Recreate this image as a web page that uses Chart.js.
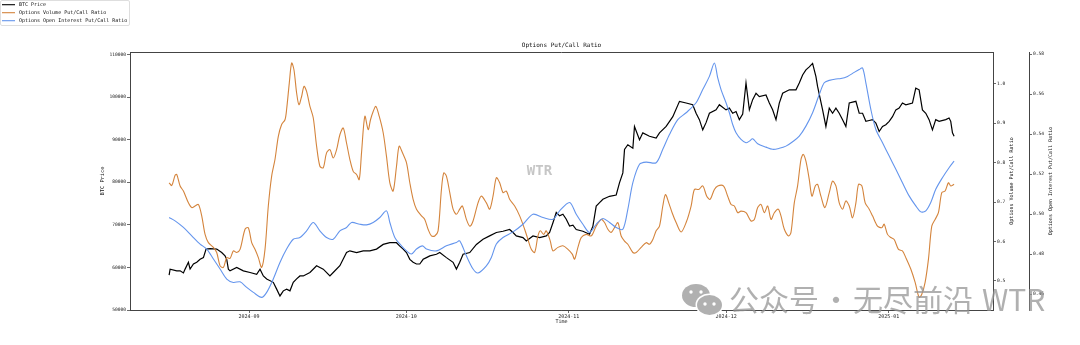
<!DOCTYPE html>
<html>
<head>
<meta charset="utf-8">
<script src="https://cdn.jsdelivr.net/npm/chart.js@4.4.0/dist/chart.umd.min.js"></script>
<style>
html,body{margin:0;padding:0;background:#fff;}
#wrap{width:1080px;height:345px;position:relative;}
</style>
</head>
<body>
<div id="wrap"><canvas id="c" width="1080" height="345"></canvas></div>
<script>
// ---- data (x = days since 2024-08-01) ----
const btcDay = [15.76,15.95,17.22,17.86,18.49,18.81,19.44,19.76,20.40,21.03,21.67,22.30,22.81,23.57,24.84,25.79,26.43,26.75,27.06,27.38,28.65,29.92,31.19,32.46,33.10,33.73,34.37,35.63,36.27,36.90,37.54,38.17,38.81,39.44,40.08,40.71,41.35,42.62,43.89,44.52,45.16,46.43,47.06,48.33,49.60,50.24,51.51,52.78,54.05,55.32,56.59,57.86,59.13,59.76,60.40,61.03,61.67,62.30,62.94,63.57,64.21,64.84,65.48,66.75,67.38,68.65,69.92,70.56,71.19,71.83,73.10,74.37,75.63,76.90,78.17,79.44,80.71,81.35,81.98,83.25,83.89,85.16,86.43,87.70,88.33,88.97,89.60,90.24,90.87,91.51,92.14,92.78,93.41,94.68,95.95,96.59,97.22,97.86,98.49,99.76,101.03,101.67,102.30,102.62,103.25,104.21,104.52,105.48,106.11,107.38,108.65,109.29,110.56,111.83,113.10,114.37,115.63,116.27,116.90,117.54,118.17,118.81,120.08,120.71,121.98,122.62,123.25,123.89,124.52,125.16,125.79,126.43,127.06,127.70,128.33,129.60,130.24,130.87,131.51,132.14,132.78,134.05,135.32,135.95,136.59,137.22,137.86,138.49,139.13,139.44,140.40,141.03,141.67,142.30,142.94,143.57,144.21,144.84,145.48,146.11,146.75,147.38,148.02,148.65,149.29,149.92,150.56,151.19,151.83,152.46,153.10,153.73,154.37,155.00,155.63,156.27,157.54,158.17,158.81,159.44,160.08,160.71,161.35,161.98,162.62,163.89,164.52,164.84,165.17,165.48];
const btcPrice = [58200,59600,59200,59200,58700,59600,61200,59600,60800,61200,61900,62300,64300,64400,64300,63500,62700,61900,59600,59200,60000,59200,58800,58400,59600,58000,57300,56500,54900,53300,54500,54900,54500,56500,57300,58000,58000,58800,60400,60000,59600,58000,58800,60400,63500,63900,63500,63900,63900,64300,65400,65800,65800,65000,64300,63500,61900,61200,60800,60800,61900,62300,62700,63100,63500,62300,61200,59600,61200,63100,63500,65400,66600,67400,68200,68500,68900,68200,67400,67000,66200,67400,67000,67400,68200,70500,72900,72100,72500,71300,69700,69900,68900,68500,67800,69700,74400,75200,76000,76700,77000,79900,82200,87700,88800,88000,93100,90000,91600,90800,90400,91600,93100,95400,99000,98600,98200,96200,94700,92300,94000,96200,97000,98200,97000,97400,96200,96600,94700,96000,103300,97000,99400,100900,100100,100500,98600,97000,94700,98600,100900,101700,101700,103300,105200,106400,107100,107900,104800,102500,97000,93100,97400,96200,97400,96200,94700,93100,98600,98800,99000,96200,96200,94300,94500,94700,93900,91900,93100,93500,94300,95400,97000,97400,98600,98200,98600,102100,101700,97000,96200,94700,92300,94700,94300,94700,95100,94300,91600,90800];

const volDay = [15.76,16.27,16.90,17.22,17.86,18.49,19.44,20.08,20.71,21.35,21.98,22.62,23.25,24.21,24.84,25.48,26.11,26.75,27.38,28.02,28.65,29.29,30.24,30.87,31.51,32.14,32.78,33.41,34.05,34.68,35.32,35.95,36.59,37.22,37.86,38.17,38.68,39.13,39.57,40.08,40.52,41.03,41.48,41.98,42.62,43.25,43.89,44.52,45.16,45.79,46.43,47.06,47.70,48.33,48.97,49.60,50.24,50.87,51.51,52.02,52.46,53.10,53.73,54.17,54.68,55.19,55.83,56.59,57.22,57.86,58.49,59.13,59.63,60.27,61.03,61.67,62.30,62.94,63.89,64.52,65.16,65.79,66.43,67.06,67.70,68.14,68.65,69.29,69.92,70.56,71.19,71.70,72.46,73.10,73.73,74.68,75.32,76.27,76.90,77.54,78.17,78.81,79.44,80.08,80.71,81.67,82.62,83.57,84.21,84.84,85.48,86.11,86.56,87.19,87.70,88.46,88.97,89.92,90.87,91.83,92.65,93.10,93.73,94.37,95.32,96.27,97.22,98.17,98.81,99.44,100.08,100.71,101.35,101.98,102.62,103.25,104.21,104.84,105.79,106.75,107.38,108.02,108.65,109.29,109.92,110.43,111.06,111.70,112.46,113.41,114.37,115.32,115.95,116.78,117.54,118.30,118.94,119.76,120.40,121.48,122.30,122.94,123.57,124.21,124.84,125.79,126.75,127.38,128.02,128.65,129.29,129.92,130.56,131.19,131.95,132.46,133.10,133.92,134.37,135.00,135.63,136.27,136.71,137.22,137.86,138.37,139.00,139.44,140.08,140.84,141.67,142.30,142.94,143.57,144.21,144.84,145.48,146.11,146.75,147.25,147.89,148.52,149.29,149.92,150.87,151.70,152.14,152.78,153.41,154.05,154.87,155.63,156.27,157.22,158.05,158.81,159.32,159.95,160.59,161.22,161.86,162.49,163.13,163.76,164.40,164.84,165.48];
const volRatio = [0.749,0.742,0.768,0.770,0.741,0.728,0.698,0.686,0.690,0.694,0.665,0.618,0.597,0.585,0.572,0.538,0.534,0.559,0.557,0.576,0.572,0.580,0.631,0.635,0.597,0.580,0.559,0.534,0.580,0.690,0.766,0.808,0.867,0.897,0.909,0.935,1.002,1.053,1.036,0.977,0.947,0.968,0.994,0.981,0.943,0.914,0.842,0.791,0.787,0.825,0.833,0.812,0.833,0.871,0.888,0.850,0.808,0.778,0.770,0.757,0.825,0.918,0.884,0.909,0.930,0.943,0.918,0.876,0.816,0.749,0.728,0.791,0.842,0.825,0.800,0.749,0.707,0.682,0.665,0.656,0.631,0.614,0.614,0.627,0.732,0.774,0.766,0.724,0.682,0.669,0.682,0.690,0.656,0.639,0.652,0.698,0.715,0.698,0.682,0.715,0.762,0.749,0.724,0.728,0.707,0.690,0.665,0.631,0.605,0.580,0.572,0.614,0.627,0.618,0.627,0.601,0.576,0.585,0.589,0.580,0.568,0.555,0.585,0.610,0.618,0.614,0.639,0.656,0.648,0.631,0.623,0.635,0.648,0.614,0.601,0.593,0.572,0.572,0.585,0.597,0.593,0.605,0.627,0.639,0.690,0.719,0.698,0.673,0.648,0.624,0.648,0.690,0.732,0.732,0.741,0.715,0.707,0.732,0.741,0.741,0.715,0.694,0.690,0.673,0.677,0.673,0.652,0.656,0.686,0.694,0.673,0.690,0.656,0.673,0.682,0.665,0.631,0.614,0.623,0.698,0.741,0.808,0.821,0.804,0.757,0.715,0.741,0.745,0.715,0.686,0.724,0.753,0.741,0.698,0.682,0.703,0.690,0.660,0.698,0.745,0.741,0.698,0.682,0.665,0.639,0.635,0.644,0.618,0.610,0.605,0.580,0.576,0.559,0.530,0.496,0.458,0.466,0.496,0.555,0.639,0.656,0.673,0.724,0.728,0.749,0.741,0.745];

const oiDay = [15.76,16.90,18.49,20.08,21.67,22.94,24.21,25.48,26.75,28.02,29.29,30.56,31.83,33.41,34.37,35.63,36.90,38.17,39.44,40.71,41.98,43.25,44.52,45.79,47.06,48.33,49.60,50.56,52.14,53.41,54.68,55.95,57.22,57.86,58.81,60.08,61.03,61.98,62.94,64.08,64.84,66.75,68.65,70.56,71.19,72.46,73.73,74.68,76.27,77.22,78.17,79.44,81.35,83.25,85.16,87.06,88.97,90.24,92.14,93.41,94.68,95.95,97.22,98.49,99.76,101.03,102.30,103.25,104.21,105.48,106.75,108.65,109.92,111.19,112.78,114.37,116.27,117.54,118.81,119.76,120.40,121.03,121.98,122.62,123.25,123.89,124.84,125.79,126.43,127.06,128.02,129.60,130.87,132.14,133.41,134.68,135.95,137.22,138.49,139.76,140.71,141.67,142.94,143.89,145.16,146.43,147.38,148.02,148.65,149.60,150.56,151.83,153.10,154.37,155.63,156.90,158.17,159.13,160.08,161.03,161.98,163.25,164.52,165.48];
const oiRatio = [0.4983,0.4966,0.4933,0.4891,0.4850,0.4825,0.4775,0.4725,0.4675,0.4658,0.4661,0.4633,0.4608,0.4583,0.4608,0.4675,0.4758,0.4825,0.4874,0.4883,0.4916,0.4958,0.4916,0.4883,0.4874,0.4916,0.4933,0.4958,0.4949,0.4946,0.4958,0.4983,0.5016,0.4958,0.4883,0.4841,0.4816,0.4800,0.4825,0.4841,0.4825,0.4816,0.4841,0.4858,0.4866,0.4791,0.4725,0.4705,0.4741,0.4783,0.4850,0.4883,0.4911,0.4949,0.4999,0.4983,0.4974,0.5016,0.5058,0.4999,0.4949,0.4908,0.4949,0.4978,0.4958,0.4933,0.4924,0.5024,0.5157,0.5249,0.5260,0.5257,0.5324,0.5398,0.5473,0.5507,0.5557,0.5623,0.5689,0.5756,0.5681,0.5623,0.5557,0.5507,0.5448,0.5407,0.5374,0.5357,0.5365,0.5377,0.5352,0.5335,0.5324,0.5329,0.5340,0.5362,0.5390,0.5440,0.5507,0.5598,0.5657,0.5669,0.5676,0.5678,0.5689,0.5709,0.5723,0.5731,0.5657,0.5524,0.5423,0.5357,0.5290,0.5224,0.5157,0.5091,0.5041,0.5011,0.5016,0.5058,0.5124,0.5182,0.5232,0.5265];

const monthTicks = [31, 61, 92, 122, 153];
const monthLabels = ['2024-09', '2024-10', '2024-11', '2024-12', '2025-01'];
const btcTicks = [50000, 60000, 70000, 80000, 90000, 100000, 110000];
const volTicks = [0.5, 0.6, 0.7, 0.8, 0.9, 1.0];
const oiTicks = [0.46, 0.48, 0.50, 0.52, 0.54, 0.56, 0.58];

const seriesNames = ['BTC Price', 'Options Volume Put/Call Ratio', 'Options Open Interest Put/Call Ratio'];
const seriesColors = ['#000000', '#d4843c', '#6495ed'];

const MONO = "'DejaVu Sans Mono', monospace";
const pts = (xs, ys) => xs.map((x, i) => ({ x: x, y: ys[i] }));

const tickFont = { family: MONO, size: 4.6 };
const axisCommon = (w) => ({
  border: { display: true, color: '#444', width: 1 },
  grid: { drawOnChartArea: false, drawTicks: true, tickLength: 3, color: '#444', lineWidth: 0.8 },
  afterFit: (s) => { s.width = w; }
});

const decor = {
  id: 'decor',
  afterDatasetsDraw(chart) {
    const ctx = chart.ctx;
    const a = chart.chartArea;
    ctx.save();
    ctx.strokeStyle = '#444';
    ctx.lineWidth = 1;
    ctx.beginPath();
    ctx.moveTo(a.left, a.top + 0.5);
    ctx.lineTo(a.right, a.top + 0.5);
    ctx.stroke();

    const cx = (a.left + a.right) / 2;
    const cy = (a.top + a.bottom) / 2;
    ctx.fillStyle = '#111';
    ctx.textAlign = 'center';
    ctx.textBaseline = 'middle';
    ctx.font = "6px " + MONO;
    ctx.fillText('Options Put/Call Ratio', cx, a.top - 7);
    ctx.font = "5px " + MONO;
    ctx.fillText('Time', cx, a.bottom + 12);

    const vText = (t, x, size) => {
      ctx.save();
      ctx.translate(x, cy);
      ctx.rotate(-Math.PI / 2);
      ctx.font = size + "px " + MONO;
      ctx.fillText(t, 0, 0);
      ctx.restore();
    };
    vText(seriesNames[0], a.left - 27, 5.4);
    const yv = chart.scales.yv, yo = chart.scales.yo;
    vText(seriesNames[1], yv.left + 19, 5);
    vText(seriesNames[2], yo.left + 22, 5);

    ctx.fillStyle = 'rgba(160,160,160,0.6)';
    ctx.font = "bold 14px " + MONO;
    ctx.fillText('WTR', 539.5, 171.5);

    // legend
    ctx.fillStyle = 'rgba(255,255,255,0.85)';
    ctx.strokeStyle = '#d6d6d6';
    ctx.lineWidth = 0.8;
    ctx.beginPath();
    ctx.roundRect(0.5, 0.5, 129, 25, 1.5);
    ctx.fill();
    ctx.stroke();
    ctx.textAlign = 'left';
    ctx.font = "5px " + MONO;
    for (let i = 0; i < 3; i++) {
      const y = 4.7 + i * 8;
      ctx.strokeStyle = seriesColors[i];
      ctx.lineWidth = 1.1;
      ctx.beginPath();
      ctx.moveTo(2, y);
      ctx.lineTo(15, y);
      ctx.stroke();
      ctx.fillStyle = '#111';
      ctx.fillText(seriesNames[i], 19, y + 0.3);
    }
    ctx.restore();
  },
  afterDraw(chart) {
    const ctx = chart.ctx;
    ctx.save();
    const g = 'rgba(150,150,150,0.75)';
    ctx.fillStyle = g;
    ctx.beginPath();
    ctx.ellipse(696, 295.5, 14, 11.5, 0, 0, Math.PI * 2);
    ctx.fill();
    ctx.fillStyle = '#fff';
    ctx.beginPath();
    ctx.ellipse(709.5, 305, 14, 11.5, 0, 0, Math.PI * 2);
    ctx.fill();
    ctx.fillStyle = g;
    ctx.beginPath();
    ctx.ellipse(709.5, 305, 12.5, 10, 0, 0, Math.PI * 2);
    ctx.fill();
    ctx.fillStyle = '#fff';
    [[691, 292], [701, 292], [705, 304], [714, 304]].forEach(p => {
      ctx.beginPath(); ctx.arc(p[0], p[1], 1.7, 0, Math.PI * 2); ctx.fill();
    });
    ctx.fillStyle = g;
    ctx.textBaseline = 'middle';
    ctx.textAlign = 'left';
    ctx.font = "30px 'Noto Sans CJK SC', sans-serif";
    ctx.fillText('公众号', 729, 300);
    ctx.fillText('无尽前沿', 853, 300);
    ctx.textAlign = 'center';
    ctx.fillText('·', 836, 300);
    ctx.textAlign = 'left';
    ctx.fillText('WTR', 982, 300);
    ctx.restore();
  }
};

new Chart(document.getElementById('c'), {
  type: 'line',
  data: {
    datasets: [
      { label: seriesNames[0], data: pts(btcDay, btcPrice), yAxisID: 'y', borderColor: seriesColors[0], borderWidth: 1.2, pointRadius: 0, tension: 0, order: 3 },
      { label: seriesNames[1], data: pts(volDay, volRatio), yAxisID: 'yv', borderColor: seriesColors[1], borderWidth: 1.1, pointRadius: 0, tension: 0.3, order: 2 },
      { label: seriesNames[2], data: pts(oiDay, oiRatio), yAxisID: 'yo', borderColor: seriesColors[2], borderWidth: 1.1, pointRadius: 0, tension: 0.3, order: 1 }
    ]
  },
  options: {
    responsive: false,
    animation: false,
    devicePixelRatio: 1,
    layout: { padding: { top: 52, left: 0, right: 0, bottom: 0 } },
    plugins: { legend: { display: false }, title: { display: false }, tooltip: { enabled: false } },
    scales: {
      x: {
        type: 'linear', position: 'bottom', min: 8.3, max: 172.9,
        border: { display: true, color: '#444', width: 1 },
        grid: { drawOnChartArea: false, drawTicks: true, tickLength: 3, color: '#444', lineWidth: 0.8 },
        afterBuildTicks: (s) => { s.ticks = monthTicks.map(v => ({ value: v })); },
        ticks: { font: { family: MONO, size: 5 }, color: '#222', padding: 1, maxRotation: 0, autoSkip: false,
                 callback: (v) => monthLabels[monthTicks.indexOf(v)] },
        afterFit: (s) => { s.height = 35; }
      },
      y: Object.assign(axisCommon(130), {
        type: 'linear', position: 'left', min: 50000, max: 110585,
        afterBuildTicks: (s) => { s.ticks = btcTicks.map(v => ({ value: v })); },
        ticks: { font: tickFont, color: '#222', padding: 1, callback: (v) => String(v) }
      }),
      yv: Object.assign(axisCommon(36), {
        type: 'linear', position: 'right', min: 0.426, max: 1.081, weight: 0,
        afterBuildTicks: (s) => { s.ticks = volTicks.map(v => ({ value: v })); },
        ticks: { font: tickFont, color: '#222', padding: 1, callback: (v) => v.toFixed(1) }
      }),
      yo: Object.assign(axisCommon(51), {
        type: 'linear', position: 'right', min: 0.452, max: 0.5811, weight: 1,
        afterBuildTicks: (s) => { s.ticks = oiTicks.map(v => ({ value: v })); },
        ticks: { font: tickFont, color: '#222', padding: 1, callback: (v) => v.toFixed(2) }
      })
    }
  },
  plugins: [decor]
});
</script>
</body>
</html>
